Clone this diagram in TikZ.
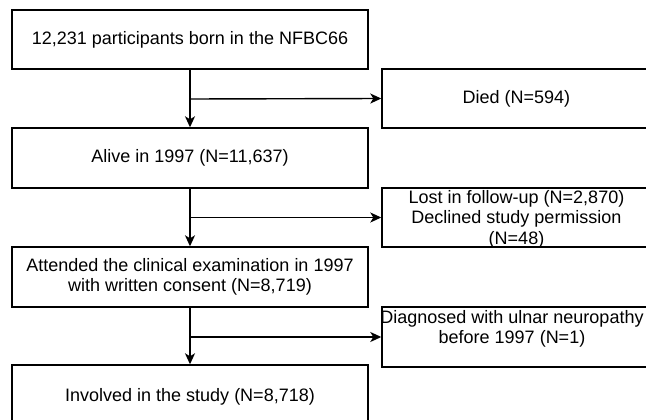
\documentclass[tikz,border=0pt]{standalone}
\usepackage{fontspec}
\setmainfont{Liberation Sans}
\usetikzlibrary{arrows.meta}
\begin{document}
\begin{tikzpicture}[x=1pt,y=-1pt,
  font=\fontsize{18}{20.5}\selectfont,
  box/.style={draw=black, line width=1.4pt, fill=white, inner sep=0pt, align=center},
  leftbox/.style={box, minimum width=356pt, minimum height=59pt},
  rightbox/.style={box, minimum width=269pt, minimum height=59pt},
  flow/.style={draw=black, line width=1.4pt, -{Stealth[length=11pt,width=10pt,inset=3pt]}},
  plain/.style={draw=black, line width=1.4pt}]
\useasboundingbox (0,0) rectangle (646,420);
\clip (0,0) rectangle (646,420);
% left column
\node[leftbox] (top) at (190,39.5) {12,231 participants born in the NFBC66};
\node[leftbox, minimum height=60pt] (alive) at (190,158) {Alive in 1997 (N=11,637)};
\node[leftbox, minimum height=60pt] (att) at (190,277) {Attended the clinical examination in 1997\\with written consent (N=8,719)};
\node[leftbox, minimum height=60pt] (inv) at (190,395) {};
\node (invtxt) at (190,397) {Involved in the study (N=8,718)};
% right column
\node[rightbox] (died) at (516.5,98.5) {Died (N=594)};
\node[rightbox] (lost) at (516.5,217.5) {};
\node[align=center] (losttxt) at (516.5,219) {Lost in follow-up (N=2,870)\\Declined study permission\\(N=48)};
\node[rightbox, minimum height=60pt] (diag) at (516.5,337) {};
\node[align=center] (diagtxt) at (512,329) {Diagnosed with ulnar neuropathy\\before 1997 (N=1)};
% branch points
\coordinate (b1) at (190,99);
\coordinate (b2) at (190,217.5);
\coordinate (b3) at (190,337);
% connectors
\draw[flow] (top.south) -- (alive.north);
\draw[flow] (b1) -- (died.west);
\draw[flow] (alive.south) -- (att.north);
\draw[flow] (b2) -- (lost.west);
\draw[flow] (att.south) -- (inv.north);
\draw[flow] (b3) -- (diag.west);
\end{tikzpicture}
\end{document}
